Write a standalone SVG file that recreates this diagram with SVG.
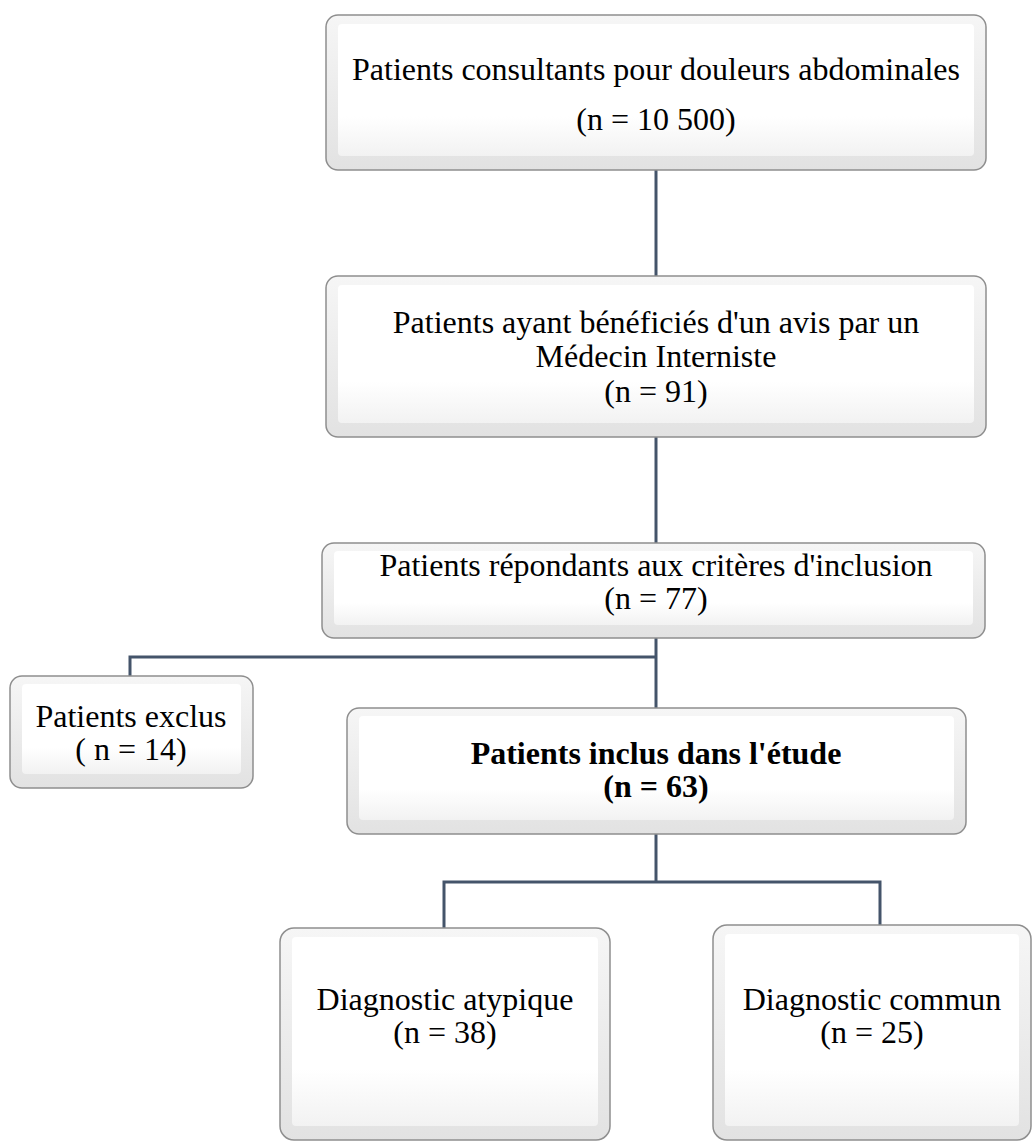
<svg xmlns="http://www.w3.org/2000/svg" width="1034" height="1142" viewBox="0 0 1034 1142">
<defs>
<linearGradient id="frame" x1="0" y1="0" x2="0" y2="1">
<stop offset="0" stop-color="#f6f6f6"/>
<stop offset="1" stop-color="#e2e2e2"/>
</linearGradient>
<linearGradient id="face" x1="0" y1="0" x2="0" y2="1">
<stop offset="0" stop-color="#ffffff"/>
<stop offset="0.7" stop-color="#ffffff"/>
<stop offset="1" stop-color="#f2f2f2"/>
</linearGradient>
</defs>
<style>
.outer{fill:url(#frame);stroke:#8e8e8e;stroke-width:1.5}
.inner{fill:url(#face);stroke:none}
.t{font-family:"Liberation Serif","Times New Roman",serif;font-size:32px;fill:#000;text-anchor:middle}
.b{font-weight:bold}
.c{fill:none;stroke:#44546a;stroke-width:3}
</style>
<rect width="1034" height="1142" fill="#ffffff"/>
<g id="connectors">
<path class="c" d="M656 170V276"/>
<path class="c" d="M656 437V543"/>
<path class="c" d="M656 638V708"/>
<path class="c" d="M656 657H130V676"/>
<path class="c" d="M656 834V882"/>
<path class="c" d="M444 928V882H880V925"/>
</g>
<g id="n1">
<rect class="outer" x="326" y="15" width="660" height="155" rx="12"/>
<rect class="inner" x="338" y="24" width="636" height="132" rx="4"/>
<text class="t" x="656" y="80">Patients consultants pour douleurs abdominales</text>
<text class="t" x="656" y="130">(n = 10 500)</text>
</g>
<g id="n2">
<rect class="outer" x="326" y="276" width="660" height="161" rx="12"/>
<rect class="inner" x="338" y="285" width="636" height="138" rx="4"/>
<text class="t" x="656" y="333">Patients ayant bénéficiés d'un avis par un</text>
<text class="t" x="656" y="367">Médecin Interniste</text>
<text class="t" x="656" y="402">(n = 91)</text>
</g>
<g id="n3">
<rect class="outer" x="322" y="543" width="663" height="95" rx="12"/>
<rect class="inner" x="334" y="551" width="639" height="74" rx="4"/>
<text class="t" x="656" y="576">Patients répondants aux critères d'inclusion</text>
<text class="t" x="656" y="609">(n = 77)</text>
</g>
<g id="n4">
<rect class="outer" x="10" y="676" width="243" height="112" rx="12"/>
<rect class="inner" x="22" y="684" width="219" height="90" rx="4"/>
<text class="t" x="131" y="727">Patients exclus</text>
<text class="t" x="131" y="760">( n = 14)</text>
</g>
<g id="n5">
<rect class="outer" x="347" y="708" width="619" height="126" rx="12"/>
<rect class="inner" x="359" y="716" width="595" height="104" rx="4"/>
<text class="t b" x="656" y="764">Patients inclus dans l'étude</text>
<text class="t b" x="656" y="797">(n = 63)</text>
</g>
<g id="n6">
<rect class="outer" x="280" y="928" width="330" height="212" rx="14"/>
<rect class="inner" x="292" y="937" width="306" height="189" rx="4"/>
<text class="t" x="445" y="1010">Diagnostic atypique</text>
<text class="t" x="445" y="1043">(n = 38)</text>
</g>
<g id="n7">
<rect class="outer" x="713" y="925" width="318" height="215" rx="14"/>
<rect class="inner" x="725" y="934" width="294" height="192" rx="4"/>
<text class="t" x="872" y="1010">Diagnostic commun</text>
<text class="t" x="872" y="1043">(n = 25)</text>
</g>
</svg>
